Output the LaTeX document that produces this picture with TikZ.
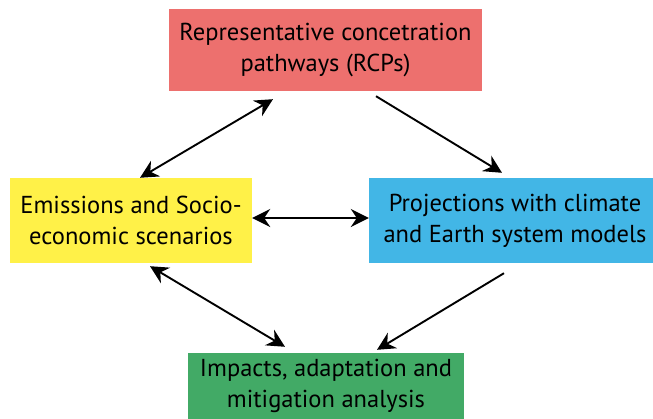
\documentclass[tikz,border=0pt]{standalone}
\usepackage{fontspec}
\setmainfont{PT Sans}
\usetikzlibrary{arrows.meta}

\definecolor{rcpred}{RGB}{237,112,110}
\definecolor{emisyellow}{RGB}{255,241,72}
\definecolor{projblue}{RGB}{66,182,230}
\definecolor{impgreen}{RGB}{66,170,102}

\begin{document}
\begin{tikzpicture}[x=1pt, y=1pt,
  box/.style={align=center, inner sep=0pt, font=\fontsize{24.5}{31}\selectfont},
  link/.style={line width=1.9pt, -{Stealth[length=18pt,width=18pt,inset=6pt]}},
  both/.style={line width=1.9pt, {Stealth[length=18pt,width=18pt,inset=6pt]}-{Stealth[length=18pt,width=18pt,inset=6pt]}}]

\useasboundingbox (0,0) rectangle (653,419);

\node[box, fill=rcpred, minimum width=313, minimum height=82] (rcp) at (325.5,369)
  {Representative concetration\\pathways (RCPs)};
\node[box, fill=emisyellow, minimum width=242, minimum height=85] (emis) at (131,198.5)
  {Emissions and Socio-\\economic scenarios};
\node[box, fill=projblue, minimum width=292, minimum height=85] (proj) at (515,198.5)
  {Projections with climate\\and Earth system models};
\node[box, fill=impgreen, minimum width=276, minimum height=66] (imp) at (326,33)
  {Impacts, adaptation and\\mitigation analysis};

\draw[both] ([xshift=-52.5,yshift=-8]rcp.south) -- ([xshift=9]emis.north);
\draw[link] ([xshift=50.5,yshift=-5]rcp.south) -- ([xshift=-13,yshift=5]proj.north);
\draw[both] ([yshift=2.5]emis.east) -- ([yshift=2.5]proj.west);
\draw[both] ([xshift=19,yshift=-3]emis.south) -- ([xshift=-41,yshift=6]imp.north);
\draw[link] ([xshift=-11,yshift=-10]proj.south) -- ([xshift=51,yshift=3]imp.north);

\end{tikzpicture}
\end{document}
